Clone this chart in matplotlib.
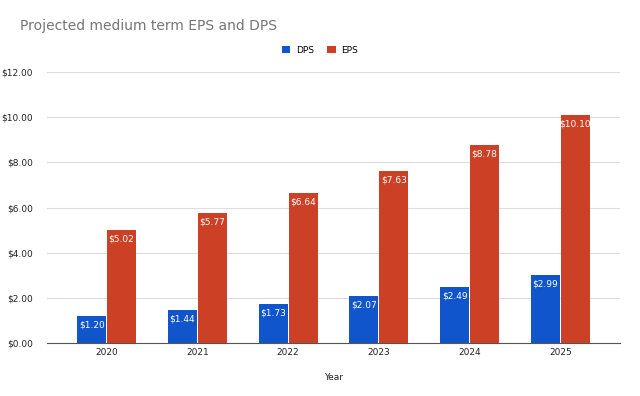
import numpy as np
import matplotlib.pyplot as plt

# data
years = ['2020', '2021', '2022', '2023', '2024', '2025']
dps = [1.20, 1.44, 1.73, 2.07, 2.49, 2.99]
eps = [5.02, 5.77, 6.64, 7.63, 8.78, 10.10]
yticks = [0, 2, 4, 6, 8, 10, 12]

blue = '#1155cc'
red = '#cc4125'

fig = plt.figure(figsize=(6.4, 3.96), dpi=100)
ax = fig.add_axes([0.073, 0.134, 0.896, 0.684])

x = np.arange(len(years))
w = 0.32
b1 = ax.bar(x - w / 2 - 0.005, dps, w, color=blue, label='DPS')
b2 = ax.bar(x + w / 2 + 0.005, eps, w, color=red, label='EPS')

for bars, vals in [(b1, dps), (b2, eps)]:
    for rect, v in zip(bars, vals):
        ax.text(rect.get_x() + rect.get_width() / 2, v - 0.2, '$%.2f' % v,
                ha='center', va='top', color='white', fontsize=6.5)

ax.set_xlim(-0.66, 5.66)
ax.set_ylim(0, 12)
ax.set_yticks(yticks)
ax.set_yticklabels(['$%.2f' % t for t in yticks])
ax.set_xticks(x)
ax.set_xticklabels(years)
ax.tick_params(length=0, labelsize=6.5, colors='#222222')
ax.tick_params(axis='y', pad=10)
ax.grid(axis='y', color='#dddddd', lw=0.8)
ax.set_axisbelow(True)
for s in ['top', 'right', 'left']:
    ax.spines[s].set_visible(False)
ax.spines['bottom'].set_color('#555555')
ax.set_xlabel('Year', fontsize=6.5, color='#222222', labelpad=12)

fig.text(0.031, 0.935, 'Projected medium term EPS and DPS', fontsize=10,
         color='#757575', va='center')
fig.legend(handles=[b1, b2], loc='center', bbox_to_anchor=(0.5, 0.873), ncol=2,
           frameon=False, fontsize=6.5, handlelength=0.9, handleheight=0.9,
           columnspacing=1.5, handletextpad=0.6)

fig.savefig('out.png', dpi=100)
